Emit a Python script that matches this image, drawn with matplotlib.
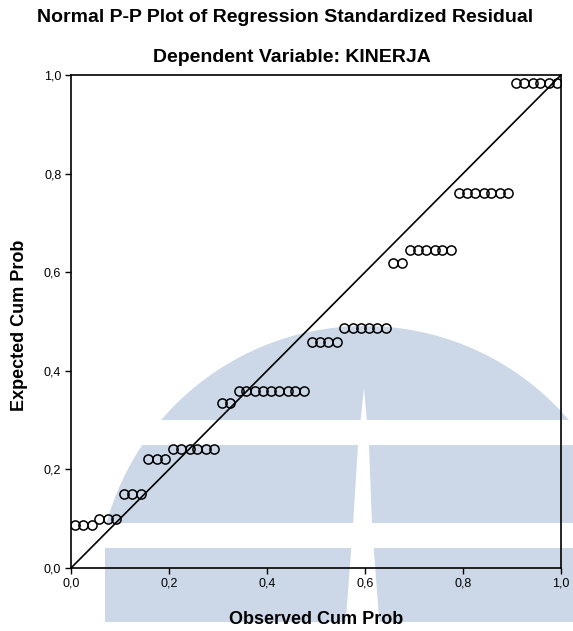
import matplotlib
matplotlib.use("Agg")
import matplotlib.pyplot as plt
from matplotlib.patches import Circle, Rectangle, Polygon

plt.rcParams['font.family'] = ['Liberation Sans', 'DejaVu Sans']

# observed cumulative probability (x) and expected cumulative probability (y)
observed = [0.008, 0.025, 0.042,
            0.058, 0.075, 0.092,
            0.108, 0.125, 0.142,
            0.158, 0.175, 0.192,
            0.208, 0.225, 0.242, 0.258, 0.275, 0.292,
            0.308, 0.325,
            0.342, 0.358, 0.375, 0.392, 0.408, 0.425, 0.442, 0.458, 0.475,
            0.492, 0.508, 0.525, 0.542,
            0.558, 0.575, 0.592, 0.608, 0.625, 0.642,
            0.658, 0.675,
            0.692, 0.708, 0.725, 0.742, 0.758, 0.775,
            0.792, 0.808, 0.825, 0.842, 0.858, 0.875, 0.892,
            0.908, 0.925, 0.942, 0.958, 0.975, 0.992]
expected = [0.087, 0.087, 0.087,
            0.099, 0.099, 0.099,
            0.150, 0.150, 0.150,
            0.221, 0.221, 0.221,
            0.241, 0.241, 0.241, 0.241, 0.241, 0.241,
            0.335, 0.335,
            0.359, 0.359, 0.359, 0.359, 0.359, 0.359, 0.359, 0.359, 0.359,
            0.458, 0.458, 0.458, 0.458,
            0.487, 0.487, 0.487, 0.487, 0.487, 0.487,
            0.619, 0.619,
            0.645, 0.645, 0.645, 0.645, 0.645, 0.645,
            0.761, 0.761, 0.761, 0.761, 0.761, 0.761, 0.761,
            0.984, 0.984, 0.984, 0.984, 0.984, 0.984]
ticks = [0.0, 0.2, 0.4, 0.6, 0.8, 1.0]
tick_labels = ['0,0', '0,2', '0,4', '0,6', '0,8', '1,0']

W, H = 573, 631
fig = plt.figure(figsize=(W / 100, H / 100), dpi=100)

# faint watermark in the background (pixel coordinates)
bg = fig.add_axes([0, 0, 1, 1], zorder=0)
bg.set_xlim(0, W)
bg.set_ylim(H, 0)
bg.axis('off')
wm = '#ccd8e8'
bg.add_patch(Circle((365, 594), 268, color=wm, lw=0))
bg.add_patch(Rectangle((0, 420), W, 25, color='white', lw=0))
bg.add_patch(Rectangle((0, 523), W, 25, color='white', lw=0))
bg.add_patch(Rectangle((0, 548), 105, 90, color='white', lw=0))
bg.add_patch(Rectangle((0, 622), W, 20, color='white', lw=0))
bg.add_patch(Polygon([(364, 388), (369, 445), (372, 525), (380, 631),
                      (345, 631), (353, 525), (358, 445)], color='white', lw=0))

ax = fig.add_axes([71 / W, 1 - 568 / H, 490 / W, 493 / H], zorder=1)
ax.patch.set_alpha(0)
ax.plot([0, 1], [0, 1], color='black', lw=1.2)
ax.plot(observed, expected, linestyle='none', marker='o', markersize=6.6,
        markerfacecolor='none', markeredgecolor='black', markeredgewidth=1.1)

ax.set_xlim(0, 1)
ax.set_ylim(0, 1)
ax.set_xticks(ticks)
ax.set_xticklabels(tick_labels)
ax.set_yticks(ticks)
ax.set_yticklabels(tick_labels)
ax.tick_params(direction='out', length=4, width=1, labelsize=9, pad=3)
for s in ax.spines.values():
    s.set_linewidth(1.2)

fig.text(285 / W, 1 - 18 / H, 'Normal P-P Plot of Regression Standardized Residual',
         ha='center', va='center', fontsize=14, fontweight='bold')
fig.text(292 / W, 1 - 57 / H, 'Dependent Variable: KINERJA',
         ha='center', va='center', fontsize=14, fontweight='bold')
fig.text(316 / W, 1 - 619 / H, 'Observed Cum Prob',
         ha='center', va='center', fontsize=13, fontweight='bold')
fig.text(20 / W, 1 - 325 / H, 'Expected Cum Prob', rotation=90,
         ha='center', va='center', fontsize=13, fontweight='bold')

fig.savefig('out.png', dpi=100)
